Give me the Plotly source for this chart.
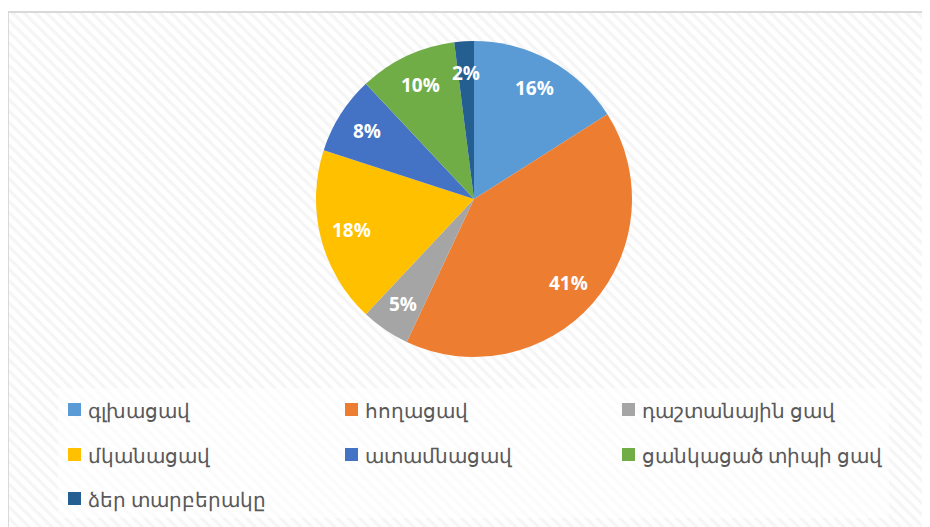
import math
import plotly.graph_objects as go

# pie data (percent shares)
labels = ['գլխացավ', 'հողացավ', 'դաշտանային ցավ',
          'մկանացավ', 'ատամնացավ', 'ցանկացած տիպի ցավ', 'ձեր տարբերակը']
values = [16, 41, 5, 18, 8, 10, 2]
colors = ['#5B9BD5', '#ED7D31', '#A5A5A5', '#FFC000', '#4472C4', '#70AD47', '#255E91']

# page body has an 8px margin, so the figure is 8px smaller and axes start at 8
OFF = 8
W, H = 930 - OFF, 527 - OFF
cx, cy, R = 474, 199, 158

fig = go.Figure()

# hatched chart area background
fig.add_trace(go.Scatter(
    x=[8, 940, 940, 8, 8], y=[13, 13, 540, 540, 13],
    mode='lines', line=dict(width=0), fill='toself',
    fillpattern=dict(shape='\\', fgcolor='#ebebeb', bgcolor='#ffffff', size=8, solidity=0.4),
    hoverinfo='skip', showlegend=False))

fig.add_trace(go.Pie(
    labels=labels, values=values, sort=False, direction='clockwise', rotation=0,
    marker=dict(colors=colors, line=dict(width=0)),
    textinfo='none',
    domain=dict(x=[(cx - R - OFF) / W, (cx + R - OFF) / W],
                y=[1 - (cy + R - OFF) / H, 1 - (cy - R - OFF) / H]),
    showlegend=False))

shapes = [
    # chart frame
    dict(type='rect', xref='x', yref='y', x0=8, y0=12, x1=945, y1=545,
         line=dict(color='#d9d9d9', width=2), fillcolor='rgba(0,0,0,0)', layer='above'),
    # legend area
    dict(type='rect', xref='x', yref='y', x0=58, y0=388, x1=889, y1=518,
         line=dict(width=0), fillcolor='rgba(255,255,255,0.6)', layer='above'),
]
annotations = []

# percentage labels, placed at 0.8 R on the middle of each slice (like Excel best fit)
total = sum(values)
acc = 0
for v in values:
    mid = (acc + v / 2) / total * 2 * math.pi
    acc += v
    annotations.append(dict(
        x=cx + 0.8 * R * math.sin(mid), y=cy - 0.8 * R * math.cos(mid),
        xref='x', yref='y', text=f'{round(v / total * 100)}%', showarrow=False,
        font=dict(family='Open Sans', size=19, color='white', weight='bold')))

# legend, 3 columns
col_x = [68, 345, 622]
row_y = [410, 455, 499]
for i, (lab, c) in enumerate(zip(labels, colors)):
    x = col_x[i % 3]
    y = row_y[i // 3]
    shapes.append(dict(type='rect', xref='x', yref='y', x0=x, x1=x + 13, y0=y - 7, y1=y + 6,
                       line=dict(width=0), fillcolor=c, layer='above'))
    annotations.append(dict(x=x + 18, y=y, xref='x', yref='y', text=lab, showarrow=False,
                            xanchor='left', yanchor='middle',
                            font=dict(family='Noto Sans', size=20, color='#595959')))

fig.update_layout(
    width=W, height=H, margin=dict(l=0, r=0, t=0, b=0),
    paper_bgcolor='white', plot_bgcolor='white',
    xaxis=dict(range=[OFF, 930], visible=False, domain=[0, 1], fixedrange=True),
    yaxis=dict(range=[527, OFF], visible=False, domain=[0, 1], fixedrange=True),
    shapes=shapes, annotations=annotations, showlegend=False,
)

fig.write_html("out.html")
